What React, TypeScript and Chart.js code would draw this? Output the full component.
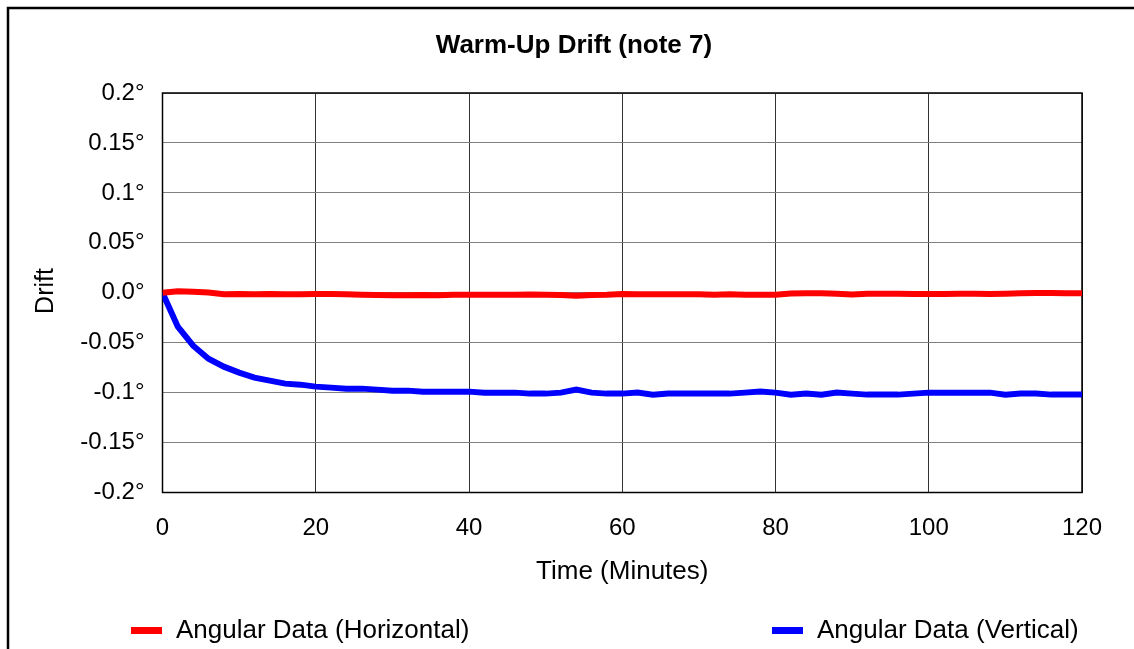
import React, { useEffect, useRef } from "react";
import { Chart, registerables } from "chart.js";

Chart.register(...registerables);

const TITLE = "Warm-Up Drift (note 7)";
const X_TITLE = "Time (Minutes)";
const Y_TITLE = "Drift";
const SERIES_NAMES = ["Angular Data (Horizontal)", "Angular Data (Vertical)"];
const SERIES_COLORS = ["#ff0000", "#0000ff"];

const minutes = [
  0, 2, 4, 6, 8, 10, 12, 14, 16, 18, 20, 22, 24, 26, 28, 30, 32, 34, 36, 38, 40,
  42, 44, 46, 48, 50, 52, 54, 56, 58, 60, 62, 64, 66, 68, 70, 72, 74, 76, 78, 80,
  82, 84, 86, 88, 90, 92, 94, 96, 98, 100, 102, 104, 106, 108, 110, 112, 114, 116, 118, 120,
];

const horizontal = [
  0, 0.0015, 0.001, 0.0003, -0.0015, -0.0012, -0.0015, -0.0012, -0.0015, -0.0015, -0.0012,
  -0.0012, -0.0015, -0.002, -0.0022, -0.0025, -0.0025, -0.0022, -0.0025, -0.002, -0.002,
  -0.002, -0.002, -0.002, -0.0018, -0.002, -0.0022, -0.003, -0.0022, -0.002, -0.0012,
  -0.0015, -0.0015, -0.0015, -0.0015, -0.0015, -0.002, -0.0015, -0.002, -0.002, -0.002,
  -0.0008, -0.0005, -0.0005, -0.001, -0.0018, -0.001, -0.001, -0.001, -0.0012, -0.0012,
  -0.0012, -0.001, -0.001, -0.0012, -0.001, -0.0005, -0.0003, -0.0003, -0.0005, -0.0005,
];

const vertical = [
  0, -0.034, -0.053, -0.066, -0.074, -0.08, -0.085, -0.088, -0.091, -0.092, -0.094,
  -0.095, -0.096, -0.096, -0.097, -0.098, -0.098, -0.099, -0.099, -0.099, -0.099,
  -0.1, -0.1, -0.1, -0.101, -0.101, -0.1, -0.097, -0.1, -0.101, -0.101,
  -0.1, -0.102, -0.101, -0.101, -0.101, -0.101, -0.101, -0.1, -0.099, -0.1,
  -0.102, -0.101, -0.102, -0.1, -0.101, -0.102, -0.102, -0.102, -0.101, -0.1,
  -0.1, -0.1, -0.1, -0.1, -0.102, -0.101, -0.101, -0.102, -0.102, -0.102,
];

const FONT = "'Liberation Sans', Arial, Helvetica, sans-serif";

const decorPlugin = {
  id: "decor",
  beforeDraw(chart: any) {
    const { ctx, width, height } = chart;
    ctx.save();
    ctx.fillStyle = "#ffffff";
    ctx.fillRect(0, 0, width, height);
    ctx.strokeStyle = "#000000";
    ctx.lineWidth = 2.5;
    ctx.strokeRect(8, 8, width + 50, height + 50);
    ctx.restore();
  },
  beforeDatasetsDraw(chart: any) {
    const { ctx, chartArea } = chart;
    ctx.save();
    ctx.strokeStyle = "#000000";
    ctx.lineWidth = 1.5;
    ctx.strokeRect(chartArea.left, chartArea.top, chartArea.right - chartArea.left, chartArea.bottom - chartArea.top);
    ctx.restore();
  },
  afterDraw(chart: any) {
    const { ctx, chartArea } = chart;
    ctx.save();
    ctx.fillStyle = "#000000";
    ctx.textAlign = "center";
    ctx.textBaseline = "middle";
    ctx.font = `bold 26px ${FONT}`;
    ctx.fillText(TITLE, 574, 46);

    ctx.font = `26px ${FONT}`;
    ctx.fillText(X_TITLE, (chartArea.left + chartArea.right) / 2, 572);

    ctx.font = `25px ${FONT}`;
    ctx.save();
    ctx.translate(46, 291);
    ctx.rotate(-Math.PI / 2);
    ctx.fillText(Y_TITLE, 0, 0);
    ctx.restore();

    // legend
    const items = [
      { x: 131, tx: 176 },
      { x: 772, tx: 817 },
    ];
    ctx.font = `26px ${FONT}`;
    ctx.textAlign = "left";
    items.forEach((it, i) => {
      ctx.fillStyle = SERIES_COLORS[i];
      ctx.fillRect(it.x, 627, 31, 7);
      ctx.fillStyle = "#000000";
      ctx.fillText(SERIES_NAMES[i], it.tx, 631);
    });
    ctx.restore();
  },
};

function fmtY(v: number) {
  if (Math.abs(v) < 1e-9) return "0.0°";
  return Number(v.toFixed(2)).toString() + "°";
}

export default function App() {
  const ref = useRef<HTMLCanvasElement>(null);
  useEffect(() => {
    if (!ref.current) return;
    const chart = new Chart(ref.current, {
      type: "line",
      data: {
        datasets: [
          {
            label: SERIES_NAMES[0],
            data: minutes.map((m, i) => ({ x: m, y: horizontal[i] })),
            borderColor: SERIES_COLORS[0],
            backgroundColor: SERIES_COLORS[0],
            borderWidth: 6,
            pointRadius: 0,
            tension: 0,
            fill: false,
          },
          {
            label: SERIES_NAMES[1],
            data: minutes.map((m, i) => ({ x: m, y: vertical[i] })),
            borderColor: SERIES_COLORS[1],
            backgroundColor: SERIES_COLORS[1],
            borderWidth: 6,
            pointRadius: 0,
            tension: 0,
            fill: false,
          },
        ],
      },
      options: {
        responsive: false,
        animation: false,
        events: [],
        layout: { padding: { left: 0, top: 93, right: 52, bottom: 0 } },
        plugins: {
          legend: { display: false },
          title: { display: false },
          tooltip: { enabled: false },
        },
        scales: {
          x: {
            type: "linear",
            min: 0,
            max: 120,
            ticks: {
              stepSize: 20,
              padding: 21,
              color: "#000",
              font: { family: FONT, size: 24 },
              maxRotation: 0,
            },
            grid: { color: "#333333", lineWidth: 1, drawTicks: false },
            border: { display: false },
            afterFit: (s: any) => {
              s.height = 156.5;
            },
          },
          y: {
            type: "linear",
            min: -0.2,
            max: 0.2,
            ticks: {
              stepSize: 0.05,
              padding: 18,
              color: "#000",
              font: { family: FONT, size: 24 },
              callback: (v: any) => fmtY(Number(v)),
            },
            grid: { color: "#808080", lineWidth: 1, drawTicks: false },
            border: { display: false },
            afterFit: (s: any) => {
              s.width = 162.5;
            },
          },
        },
      },
      plugins: [decorPlugin],
    });
    return () => chart.destroy();
  }, []);
  return (
    <div style={{ position: "absolute", left: 0, top: 0, width: 1134, height: 649, overflow: "hidden" }}>
      <canvas ref={ref} width={1134} height={649} style={{ display: "block" }} />
    </div>
  );
}
